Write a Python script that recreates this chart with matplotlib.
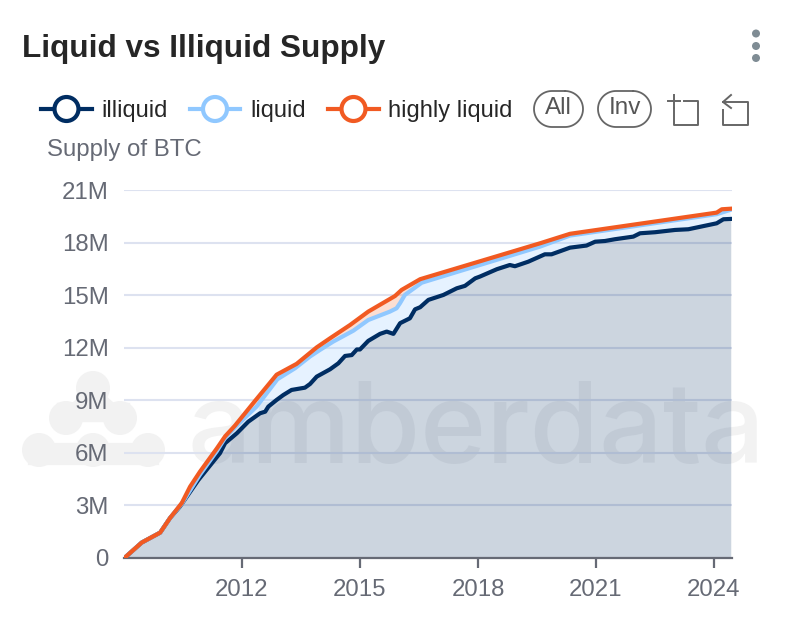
import numpy as np
import matplotlib
matplotlib.use("Agg")
import matplotlib.pyplot as plt
from matplotlib.patches import Circle, Polygon
from matplotlib.lines import Line2D

plt.rcParams['font.family'] = ['Liberation Sans', 'DejaVu Sans']

illiquid_x = [2009.03,2009.45,2009.92,2010.17,2010.42,2010.89,2011.44,2011.57,2011.87,2012.16,2012.46,2012.59,2012.67,2012.88,2013.05,2013.26,2013.6,2013.73,2013.9,2014.24,2014.45,2014.62,2014.79,2014.92,2015.0,2015.21,2015.51,2015.68,2015.85,2016.02,2016.27,2016.4,2016.53,2016.74,2017.12,2017.46,2017.67,2017.93,2018.05,2018.48,2018.81,2018.94,2019.28,2019.7,2019.87,2020.34,2020.76,2020.98,2021.23,2021.48,2021.95,2022.12,2022.5,2023.01,2023.35,2024.07,2024.24,2024.44]
illiquid_y = [0.04,0.88,1.45,2.28,2.93,4.45,5.98,6.55,7.12,7.78,8.26,8.35,8.64,9.02,9.3,9.59,9.72,9.93,10.35,10.77,11.11,11.53,11.58,11.9,11.9,12.39,12.79,12.92,12.79,13.4,13.68,14.19,14.31,14.73,15.01,15.39,15.53,15.96,16.06,16.48,16.72,16.65,16.91,17.33,17.33,17.71,17.83,18.05,18.09,18.19,18.34,18.53,18.59,18.72,18.76,19.1,19.33,19.35]
liquid_x = [2009.03,2009.45,2009.92,2010.17,2010.47,2010.93,2011.36,2011.57,2011.82,2012.37,2012.9,2013.35,2013.73,2013.98,2014.32,2014.83,2015.21,2015.76,2015.93,2016.02,2016.14,2016.57,2019.58,2020.34,2024.07,2024.41]
liquid_y = [0.04,0.88,1.45,2.28,3.1,4.75,6.1,6.85,7.45,8.64,10.2,10.83,11.5,11.87,12.35,12.97,13.58,14.06,14.25,14.55,15.01,15.71,17.77,18.4,19.62,19.86]
highly_x = [2009.03,2009.45,2009.92,2010.17,2010.47,2010.68,2010.93,2011.36,2011.57,2011.82,2012.33,2012.88,2013.39,2013.9,2014.24,2014.75,2015.21,2015.89,2016.06,2016.53,2019.58,2020.34,2024.07,2024.2,2024.41]
highly_y = [0.04,0.88,1.45,2.28,3.14,4.07,4.92,6.25,6.94,7.55,8.96,10.46,11.08,12.02,12.54,13.3,14.06,14.95,15.3,15.91,17.96,18.5,19.71,19.9,19.93]

y_ticks = [0, 3, 6, 9, 12, 15, 18, 21]
y_labels = ['0', '3M', '6M', '9M', '12M', '15M', '18M', '21M']
x_ticks = [2012, 2015, 2018, 2021, 2024]
legend_names = ['illiquid', 'liquid', 'highly liquid']

C_ILL, C_LIQ, C_HI = '#002D62', '#90C8FF', '#F15A22'
GREY = '#666a75'
W, H = 792, 626
fig = plt.figure(figsize=(W/100, H/100), dpi=100, facecolor='white')

bg = fig.add_axes([0, 0, 1, 1], zorder=0)
bg.set_xlim(0, W); bg.set_ylim(H, 0); bg.axis('off')

# watermark behind the chart
wm = '#f2f2f2'
for cx, cy in [(93, 388), (66, 418), (120, 418), (39, 450), (93, 450), (148, 450)]:
    bg.add_patch(Circle((cx, cy), 17, fc=wm, ec='none'))
bg.add_patch(Polygon([(93, 388), (66, 412), (120, 412)], fc=wm, ec=wm, lw=4))
bg.plot([66, 120], [412, 412], color=wm, lw=14)
bg.plot([39, 148], [454, 454], color=wm, lw=16)
bg.text(188, 463, 'amberdata', fontsize=81, fontweight='medium', color=wm,
        family=['Inter', 'DejaVu Sans'], ha='left', va='baseline')

ax = fig.add_axes([124/W, 1-558/H, (732-124)/W, (558-190)/H], zorder=1)
ax.patch.set_alpha(0)
ax.set_xlim(2009.0, 2009.0 + (732-124)/39.33)
ax.set_ylim(0, 21)
for s in ['top', 'right', 'left']:
    ax.spines[s].set_visible(False)
ax.spines['bottom'].set_color(GREY); ax.spines['bottom'].set_linewidth(1.6)
ax.set_yticks(y_ticks, y_labels)
ax.set_xticks(x_ticks, [str(v) for v in x_ticks])
ax.tick_params(axis='y', length=0, pad=11, labelsize=17.3, labelcolor=GREY)
ax.tick_params(axis='x', length=7, width=1.6, color=GREY, pad=8, labelsize=17.3, labelcolor=GREY)
ax.grid(axis='y', color='#dde2f0', lw=1.5)
ax.set_axisbelow(True)

ax.fill(illiquid_x + [illiquid_x[-1], illiquid_x[0]], illiquid_y + [0, 0], color=C_ILL, alpha=0.2, lw=0, zorder=1.5)
ax.fill(liquid_x + illiquid_x[::-1], liquid_y + illiquid_y[::-1], color=C_LIQ, alpha=0.22, lw=0, zorder=1.5)
ax.fill(highly_x + liquid_x[::-1], highly_y + liquid_y[::-1], color=C_HI, alpha=0.2, lw=0, zorder=1.5)
ax.plot(illiquid_x, illiquid_y, color=C_ILL, lw=3, zorder=3)
ax.plot(liquid_x, liquid_y, color=C_LIQ, lw=3, zorder=3.1)
ax.plot(highly_x, highly_y, color=C_HI, lw=3, zorder=3.2)

fg = fig.add_axes([0, 0, 1, 1], zorder=2)
fg.set_xlim(0, W); fg.set_ylim(H, 0); fg.axis('off'); fg.patch.set_alpha(0)

fg.text(22, 49, 'Liquid vs Illiquid Supply', fontsize=22.7, fontweight='bold', color='#262626', va='center', ha='left')
for cy in (33.5, 46, 58):
    fg.add_patch(Circle((756, cy), 4, fc='#7f8c94', ec='none'))

for (x0, x1, tx), name, c in zip([(41, 92, 101), (190, 240, 250), (328, 379, 388)], legend_names, [C_ILL, C_LIQ, C_HI]):
    fg.add_line(Line2D([x0, x1], [109, 109], color=c, lw=3))
    fg.add_patch(Circle(((x0+x1)/2, 109), 12, fc='white', ec=c, lw=3, zorder=3))
    fg.text(tx, 111, name, fontsize=17, color='#262626', va='center', ha='left')

def pill(x0, x1, y0, y1):
    r = (y1-y0)/2
    t = np.linspace(-np.pi/2, np.pi/2, 40)
    xs = np.r_[x1-r+r*np.cos(t), x0+r-r*np.cos(t)[::-1], x1-r]
    ys = np.r_[y0+r+r*np.sin(t), y0+r+r*np.sin(t)[::-1], y0]
    fg.plot(xs, ys, color='#666666', lw=1.3)

for x0, x1, label in [(534, 583, 'All'), (598, 651, 'Inv')]:
    pill(x0, x1, 91, 127)
    fg.text((x0+x1)/2, 108, label, fontsize=17.5, color='#555555', va='center', ha='center')

ic = dict(color='#666666', lw=1.4)
fg.plot([684, 698, 698, 674, 674], [101, 101, 125, 125, 108], **ic)
fg.plot([668, 680], [101, 101], **ic); fg.plot([674, 674], [95, 108], **ic)
fg.plot([723, 748, 748, 723, 723], [102, 102, 125, 125, 110], **ic)
fg.plot([731, 723, 731], [95, 102, 108], **ic)

fg.text(47, 150, 'Supply of BTC', fontsize=17.3, color=GREY, va='center', ha='left')

fig.savefig('out.png', dpi=100, facecolor='white')
